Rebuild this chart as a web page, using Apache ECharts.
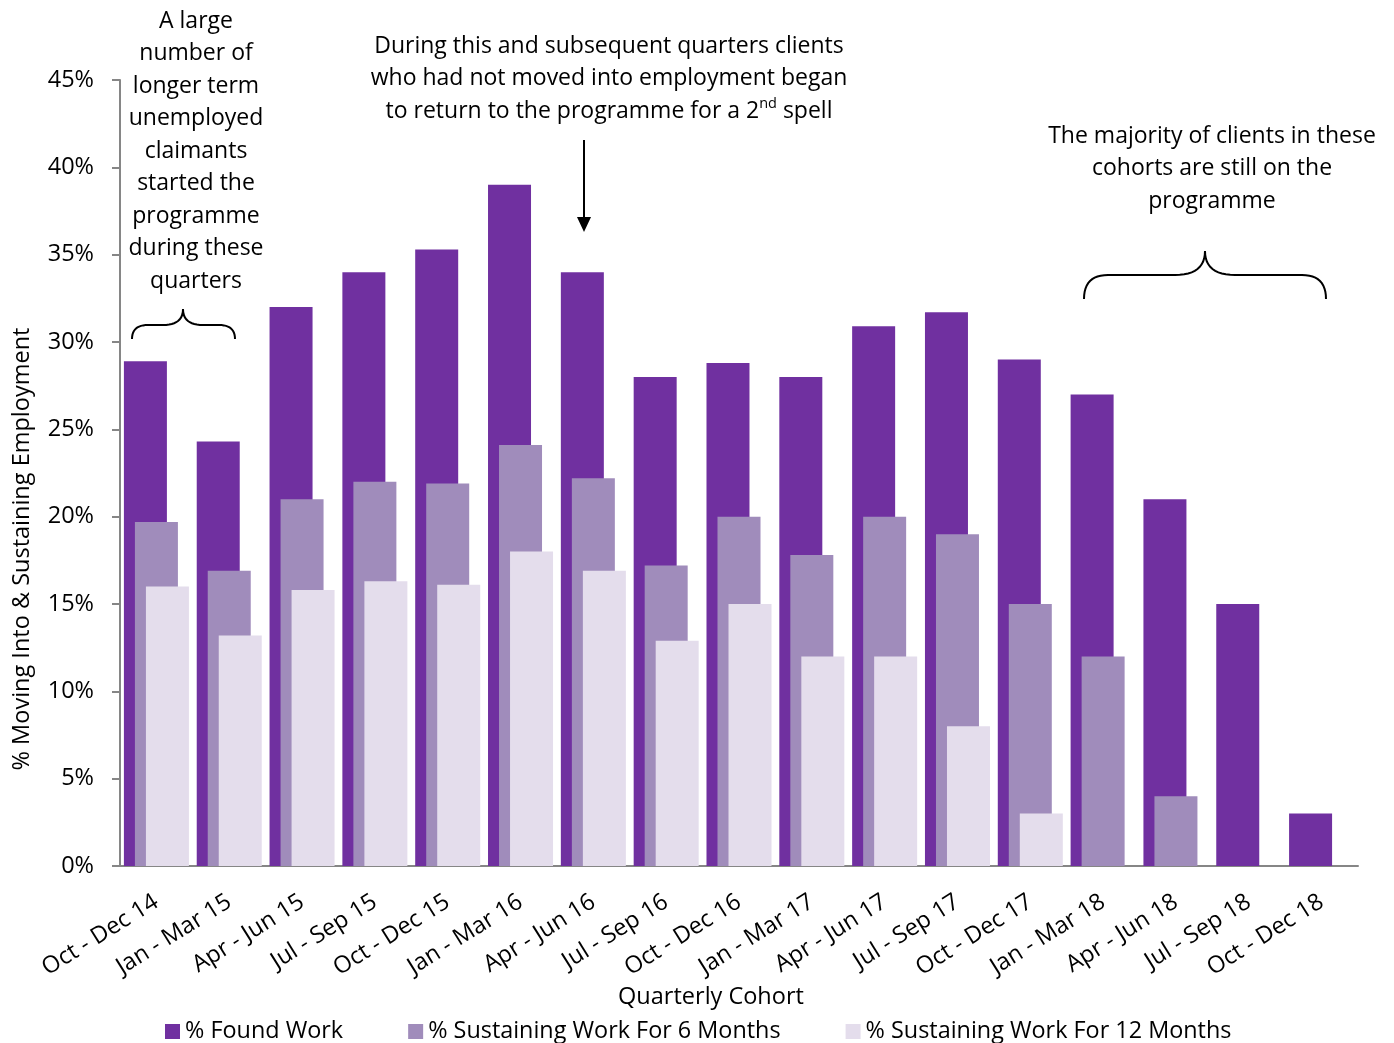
<!DOCTYPE html>
<html>
<head>
<meta charset="utf-8">
<script src="https://cdn.jsdelivr.net/npm/echarts@6/dist/echarts.min.js"></script>
<style>
  html, body { margin: 0; padding: 0; background: #fff; }
  #chart { width: 1394px; height: 1043px; }
</style>
</head>
<body>
<div id="chart"></div>
<script>
// Quarterly cohorts
const cohorts = [
  'Oct - Dec 14', 'Jan - Mar 15', 'Apr - Jun 15', 'Jul - Sep 15', 'Oct - Dec 15',
  'Jan - Mar 16', 'Apr - Jun 16', 'Jul - Sep 16', 'Oct - Dec 16', 'Jan - Mar 17',
  'Apr - Jun 17', 'Jul - Sep 17', 'Oct - Dec 17', 'Jan - Mar 18', 'Apr - Jun 18',
  'Jul - Sep 18', 'Oct - Dec 18'
];
// Percentages per cohort (null = not yet measurable)
const foundWork = [28.9, 24.3, 32.0, 34.0, 35.3, 39.0, 34.0, 28.0, 28.8, 28.0, 30.9, 31.7, 29.0, 27.0, 21.0, 15.0, 3.0];
const sustained6 = [19.7, 16.9, 21.0, 22.0, 21.9, 24.1, 22.2, 17.2, 20.0, 17.8, 20.0, 19.0, 15.0, 12.0, 4.0, null, null];
const sustained12 = [16.0, 13.2, 15.8, 16.3, 16.1, 18.0, 16.9, 12.9, 15.0, 12.0, 12.0, 8.0, 3.0, null, null, null, null];

const seriesNames = ['% Found Work', '% Sustaining Work For 6 Months', '% Sustaining Work For 12 Months'];
const yTicks = { min: 0, max: 45, interval: 5 };

const FONT = '"Open Sans", sans-serif';
const colors = ['#7030A0', '#A08CBB', '#E4DDEC'];

const chart = echarts.init(document.getElementById('chart'));

// Curly brace as a polyline: quadratic corners at both ends and a pointed tip in the middle
function quad(p0, p1, p2, n) {
  const pts = [];
  for (let i = 0; i <= n; i++) {
    const t = i / n, u = 1 - t;
    pts.push([u * u * p0[0] + 2 * u * t * p1[0] + t * t * p2[0],
              u * u * p0[1] + 2 * u * t * p1[1] + t * t * p2[1]]);
  }
  return pts;
}
function brace(x1, x2, tip, yEnd, yMid, yTip, r, r2) {
  return [].concat(
    quad([x1, yEnd], [x1, yMid], [x1 + r, yMid], 12),
    quad([tip - r2, yMid], [tip, yMid], [tip, yTip], 12),
    quad([tip, yTip], [tip, yMid], [tip + r2, yMid], 12),
    quad([x2 - r, yMid], [x2, yMid], [x2, yEnd], 12)
  );
}

const noteStyle = { fontFamily: FONT, fontSize: 23, fill: '#000', align: 'center', verticalAlign: 'top', lineHeight: 32.5 };

const option = {
  backgroundColor: '#fff',
  animation: false,
  color: colors,
  textStyle: { fontFamily: FONT },
  grid: { left: 120, right: 36, top: 80, bottom: 177, containLabel: false },
  legend: {
    left: 160, bottom: -5,
    itemWidth: 15, itemHeight: 15, itemGap: 65,
    icon: 'rect',
    textStyle: { fontFamily: FONT, fontSize: 23.4, color: '#000' },
    data: seriesNames
  },
  xAxis: {
    type: 'category',
    data: cohorts,
    axisLine: { lineStyle: { color: '#868686', width: 2 } },
    axisTick: { length: 8, lineStyle: { color: '#868686', width: 2 } },
    axisLabel: { rotate: 32, fontFamily: FONT, fontSize: 23.5, color: '#000', margin: 34, interval: 0 }
  },
  yAxis: {
    type: 'value',
    min: yTicks.min, max: yTicks.max, interval: yTicks.interval,
    axisLine: { show: true, lineStyle: { color: '#868686', width: 2 } },
    axisTick: { show: true, length: 8, lineStyle: { color: '#868686', width: 2 } },
    splitLine: { show: false },
    axisLabel: { formatter: '{value}%', fontFamily: FONT, fontSize: 23.5, color: '#000', margin: 26 }
  },
  series: [
    { name: seriesNames[0], type: 'bar', data: foundWork, barWidth: 43, barGap: '-74.4%' },
    { name: seriesNames[1], type: 'bar', data: sustained6, barWidth: 43, barGap: '-74.4%' },
    { name: seriesNames[2], type: 'bar', data: sustained12, barWidth: 43, barGap: '-74.4%' }
  ],
  graphic: [
    { type: 'text', x: 711, y: 985, style: { text: 'Quarterly Cohort', fontFamily: FONT, fontSize: 23.5, fill: '#000', align: 'center', verticalAlign: 'top' } },
    { type: 'text', x: 22, y: 549, rotation: Math.PI / 2, style: { text: '% Moving Into & Sustaining Employment', fontFamily: FONT, fontSize: 23.5, fill: '#000', align: 'center', verticalAlign: 'middle' } },
    { type: 'text', x: 196, y: 5, style: Object.assign({}, noteStyle, {
      text: 'A large\nnumber of\nlonger term\nunemployed\nclaimants\nstarted the\nprogramme\nduring these\nquarters' }) },
    { type: 'text', x: 609, y: 30, style: Object.assign({}, noteStyle, {
      text: 'During this and subsequent quarters clients\nwho had not moved into employment began\nto return to the programme for a 2{sup|nd} spell',
      rich: { sup: { fontFamily: FONT, fontSize: 14.5, fill: '#000', padding: [0, 0, 14, 0] } } }) },
    { type: 'text', x: 1212, y: 120, style: Object.assign({}, noteStyle, {
      text: 'The majority of clients in these\ncohorts are still on the\nprogramme' }) },
    { type: 'polyline', shape: { points: brace(132, 235, 183, 339, 325, 309, 16, 20) }, style: { fill: null, stroke: '#000', lineWidth: 2 } },
    { type: 'polyline', shape: { points: brace(1084, 1326, 1205, 299, 275, 251, 24, 30) }, style: { fill: null, stroke: '#000', lineWidth: 2 } },
    { type: 'line', shape: { x1: 584, y1: 140, x2: 584, y2: 220 }, style: { stroke: '#000', lineWidth: 2 } },
    { type: 'polygon', shape: { points: [[577, 217], [591, 217], [584, 232]] }, style: { fill: '#000' } }
  ]
};

chart.setOption(option);
</script>
</body>
</html>
